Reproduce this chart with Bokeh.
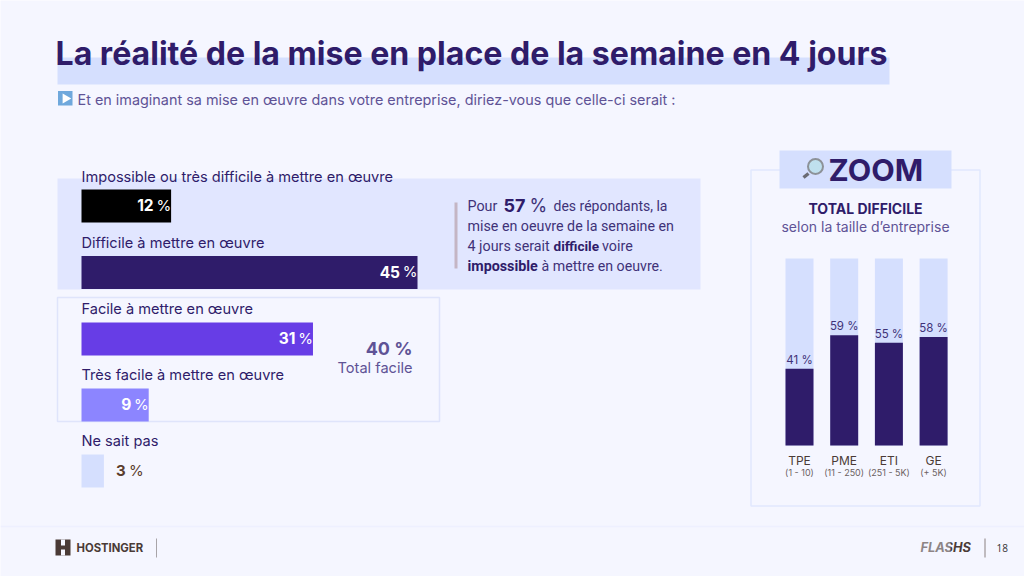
from bokeh.plotting import figure
from bokeh.models import Range1d
from bokeh.core.properties import value
from bokeh.embed import file_html
from bokeh.resources import INLINE

title_text = "La réalité de la mise en place de la semaine en 4 jours"
subtitle_text = "Et en imaginant sa mise en œuvre dans votre entreprise, diriez-vous que celle-ci serait :"
answers = ["Impossible ou très difficile à mettre en œuvre", "Difficile à mettre en œuvre",
           "Facile à mettre en œuvre", "Très facile à mettre en œuvre", "Ne sait pas"]
answer_values = [12, 45, 31, 9, 3]
size_names = ["TPE", "PME", "ETI", "GE"]
size_ranges = ["(1 - 10)", "(11 - 250)", "(251 - 5K)", "(+ 5K)"]
size_values = [41, 59, 55, 58]
size_total = [100, 100, 100, 100]

BG = "#f5f6ff"; DARK = "#2f1c6a"; MID = "#5f5396"; BAND = "#d5dffe"; PANEL = "#e1e6ff"
BROWN = "#4a3a36"
bar_colors = ["#000000", DARK, "#673de6", "#8c85ff", BAND]
label_colors = ["#ffffff", "#ffffff", "#ffffff", "#ffffff", "#5a3d2e"]
bar_y = [205.5, 272, 338.5, 404.5, 470.5]
label_y = [176.5, 242.3, 308.3, 374, 440.5]
BODY = "Roboto"; TXT = "#3f3278"

p = figure(width=1024, height=576, output_backend="svg", toolbar_location=None,
           x_range=Range1d(0, 1024), y_range=Range1d(576, 0),
           x_axis_type=None, y_axis_type=None, min_border=0, outline_line_color=None,
           background_fill_color=BG, border_fill_color=BG)
p.grid.visible = False
p.extra_x_ranges = {"pct": Range1d((0 - 81) / 7.467, (1024 - 81) / 7.467),
                    "zx": Range1d((0 - 799) / 44.7, (1024 - 799) / 44.7)}
p.extra_y_ranges = {"zy": Range1d((445 - 576) / 1.87, (445 - 0) / 1.87)}


def T(x, y, s, size, color, font="Inter", style="normal", align="left", **kw):
    p.text(x=[x], y=[y], text=[s], text_font=value(font), text_font_size=f"{size}px",
           text_font_style=style, text_color=color, text_align=align,
           text_baseline="middle", **kw)


def Q(l, r, t, b, fill=None, line=None, lw=1):
    p.quad(left=[l], right=[r], top=[t], bottom=[b], fill_color=fill, line_color=line, line_width=lw)


# header
Q(57, 889, 57, 84, fill=BAND)
T(55, 53, title_text, 32.1, DARK, style="bold")
Q(57.5, 72, 90.5, 105, fill="#6fa8dc")
p.scatter(x=[65], y=[98], marker="triangle", size=10, angle=-1.5708, fill_color="white", line_color=None)
T(77, 98.5, subtitle_text, 14.4, MID)

# panels
Q(57, 700, 178, 289, fill=PANEL)
Q(57, 439, 297, 421, fill=None, line="#dfe4fb", lw=1.5)

# horizontal bars
p.hbar(y=bar_y, left=0, right=answer_values, height=33, fill_color=bar_colors, line_color=None, x_range_name="pct")
for s, v, by, ly, lc in zip(answers, answer_values, bar_y, label_y, label_colors):
    T(81, ly, s, 14.6, DARK)
    if v < 5:
        p.text(x=[v], y=[by - 0.7], text=[f"{v}"], x_range_name="pct", x_offset=[12], text_font=value("Inter"),
               text_font_size="15px", text_font_style="bold", text_color=lc, text_baseline="middle")
        p.text(x=[v], y=[by - 0.7], text=["%"], x_range_name="pct", x_offset=[25], text_font=value("Inter"),
               text_font_size="15px", text_color=lc, text_baseline="middle")
    else:
        p.text(x=[v], y=[by - 0.7], text=[f"{v}"], x_range_name="pct", x_offset=[-17.5], text_font=value("Inter"),
               text_font_size="15.5px", text_font_style="bold", text_color=lc, text_align="right", text_baseline="middle")
        p.text(x=[v], y=[by - 0.7], text=["%"], x_range_name="pct", x_offset=[0], text_font=value("Inter"),
               text_font_size="15px", text_color=lc, text_align="right", text_baseline="middle")

# callout
Q(454, 457, 202, 268, fill="#c4b5c4")
T(467, 205, "Pour", 14.3, TXT, font=BODY)
T(503, 205, "57", 18, DARK, style="bold")
T(529, 205, "%", 18, TXT)
T(553, 205, "des répondants, la", 14, TXT, font=BODY)
T(467, 225, "mise en oeuvre de la semaine en", 14.25, TXT, font=BODY)
T(467, 245, "4 jours serait", 14.3, TXT, font=BODY)
T(553, 245, "difficile", 13.6, DARK, font=BODY, style="bold")
T(601.5, 245, "voire", 14.3, TXT, font=BODY)
T(467, 265, "impossible", 14.3, DARK, font=BODY, style="bold")
T(541, 265, "à mettre en oeuvre.", 14.2, TXT, font=BODY)

# total facile
T(412, 347.5, "40 %", 18, MID, style="bold", align="right")
T(412, 367.5, "Total facile", 14.6, MID, align="right")

# zoom panel
Q(750.5, 979.5, 169.5, 505.5, fill=None, line="#e1e8fe", lw=1.5)
Q(779, 951, 150, 188, fill=BAND)
T(828, 169, "ZOOM", 30.5, DARK, style="bold")
p.line(x=[808, 803], y=[173, 177], line_color="#6b6b73", line_width=3.5)
p.circle(x=[815], y=[166], radius=7.5, fill_color="#bfe0ee", line_color="#8d9298", line_width=2)
T(865, 207.5, "TOTAL DIFFICILE", 14, DARK, style="bold", align="center")
T(865, 225.5, "selon la taille d’entreprise", 14, MID, align="center")

idx = list(range(len(size_names)))
p.vbar(x=idx, bottom=0, top=size_total, width=0.626, fill_color=BAND, line_color=None, x_range_name="zx", y_range_name="zy")
p.vbar(x=idx, bottom=0, top=size_values, width=0.626, fill_color=DARK, line_color=None, x_range_name="zx", y_range_name="zy")
p.text(x=idx, y=size_values, text=[f"{v} %" for v in size_values], x_range_name="zx", y_range_name="zy",
       y_offset=-2, text_font=value("Inter"), text_font_size="11.5px", text_color=TXT,
       text_align="center", text_baseline="bottom")
p.text(x=idx, y=[0] * 4, text=size_names, x_range_name="zx", y_range_name="zy", y_offset=15,
       text_font=value("Inter"), text_font_size="12px", text_color=BROWN, text_align="center", text_baseline="middle")
p.text(x=idx, y=[0] * 4, text=size_ranges, x_range_name="zx", y_range_name="zy", y_offset=27,
       text_font=value("Inter"), text_font_size="9px", text_color="#6b5f5f", text_align="center", text_baseline="middle")

# footer
p.line(x=[0, 1024], y=[526, 526], line_color="#eef0ff", line_width=1.5)
Q(55, 70, 539, 555, fill=BROWN)
p.quad(left=[60.5, 60.5], right=[64.5, 64.5], top=[539, 549], bottom=[545, 555], fill_color=BG, line_color=None)
T(76, 547, "HOSTINGER", 11.3, BROWN, style="bold")
p.line(x=[156, 156], y=[538, 557], line_color="#a8a4a8", line_width=1)
T(920, 547, "FLASHS", 12.8, BROWN, style="bold italic")
for yy in [542.5, 544.5, 546.5, 548.5, 550.5]:
    p.line(x=[919, 950], y=[yy, yy], line_color=BG, line_width=0.8)
p.line(x=[984.5, 984.5], y=[538, 557], line_color="#8a8080", line_width=1)
T(996, 547.5, "18", 10, "#333333", font="Open Sans")

open("out.html", "w").write(file_html(p, INLINE))
